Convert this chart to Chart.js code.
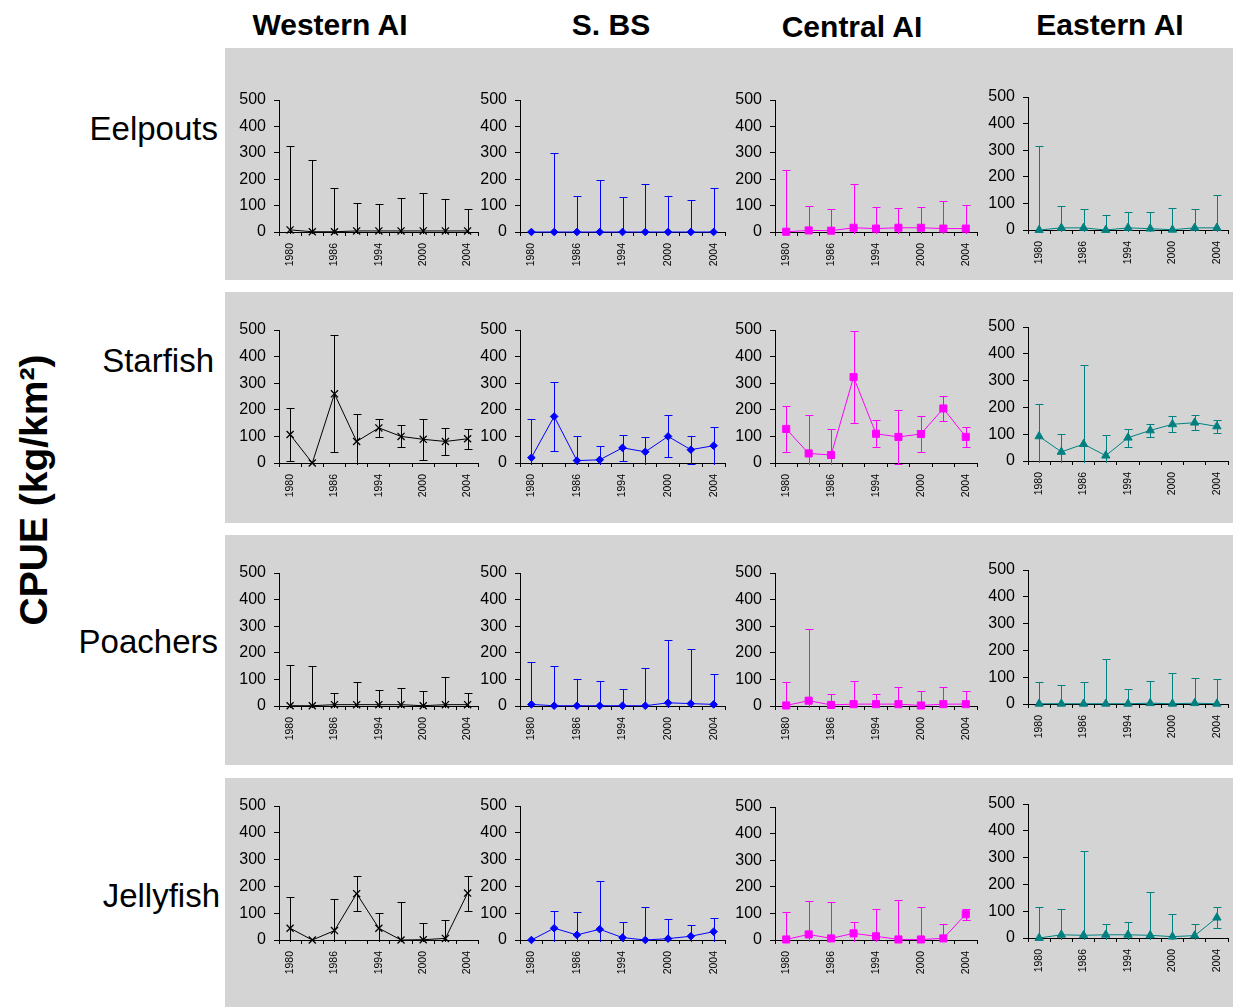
<!DOCTYPE html>
<html>
<head>
<meta charset="utf-8">
<script src="https://cdn.jsdelivr.net/npm/chart.js@4.4.1/dist/chart.umd.min.js"></script>
<style>
  html, body { margin: 0; padding: 0; background: #ffffff; }
  body { width: 1235px; height: 1007px; position: relative; overflow: hidden;
         font-family: "Liberation Sans", Arial, sans-serif; color: #000; }
  .band { position: absolute; left: 225px; width: 1008px; background: #d4d4d4; }
  .head { position: absolute; font-weight: bold; font-size: 30px; line-height: 30px;
          white-space: nowrap; transform: translateX(-50%); }
  .group { position: absolute; left: 0; font-size: 33px; line-height: 33px;
           text-align: right; white-space: nowrap; }
  .ylab { position: absolute; font-weight: bold; font-size: 39px; line-height: 39px;
          white-space: nowrap; transform: translate(-50%, -50%) rotate(-90deg); }
  canvas { position: absolute; }
</style>
</head>
<body>
<script>
// ---- categories and labels ----
const years = ['1980', '1983', '1986', '1991', '1994', '1997', '2000', '2002', '2004'];
const shownYears = ['1980', '1986', '1994', '2000', '2004'];
const regions = ['Western AI', 'S. BS', 'Central AI', 'Eastern AI'];
const groups = ['Eelpouts', 'Starfish', 'Poachers', 'Jellyfish'];
const yAxisTitle = 'CPUE (kg/km\u00B2)';

// ---- CPUE means and error half-widths (kg/km2) ----
const eelpoutsWestern    = [8, 1, 1, 4, 4, 4, 4, 4, 4];
const eelpoutsWesternErr = [317, 273, 166, 106, 103, 125, 144, 122, 84];
const eelpoutsSBS        = [0, 0, 0, 0, 0, 0, 0, 0, 0];
const eelpoutsSBSErr     = [0, 300, 138, 198, 133, 180, 138, 121, 165];
const eelpoutsCentral    = [1, 6, 5, 16, 13, 16, 16, 13, 13];
const eelpoutsCentralErr = [233, 93, 82, 167, 82, 75, 79, 104, 91];
const eelpoutsEastern    = [0, 8, 8, 0, 8, 5, 1, 8, 8];
const eelpoutsEasternErr = [317, 82, 72, 56, 60, 63, 83, 72, 122];

const starfishWestern    = [107, 0, 260, 81, 132, 100, 89, 81, 91];
const starfishWesternErr = [98, 0, 220, 105, 34, 41, 77, 51, 38];
const starfishSBS        = [20, 175, 9, 12, 57, 42, 100, 50, 65];
const starfishSBSErr     = [144, 129, 94, 52, 49, 57, 79, 53, 71];
const starfishCentral    = [128, 36, 30, 323, 110, 98, 109, 205, 98];
const starfishCentralErr = [86, 144, 99, 173, 51, 100, 66, 46, 36];
const starfishEastern    = [92, 34, 63, 20, 87, 114, 137, 143, 129];
const starfishEasternErr = [119, 68, 294, 78, 34, 25, 30, 27, 23];

const poachersWestern    = [1, 1, 5, 5, 5, 5, 1, 5, 5];
const poachersWesternErr = [155, 150, 45, 86, 56, 64, 57, 105, 45];
const poachersSBS        = [6, 1, 1, 1, 1, 1, 12, 9, 6];
const poachersSBSErr     = [160, 150, 99, 94, 64, 140, 238, 207, 113];
const poachersCentral    = [2, 20, 4, 7, 7, 7, 2, 7, 7];
const poachersCentralErr = [87, 270, 40, 88, 39, 63, 53, 63, 48];
const poachersEastern    = [1, 1, 1, 1, 1, 3, 1, 3, 1];
const poachersEasternErr = [80, 69, 80, 166, 56, 84, 113, 95, 91];

const jellyfishWestern    = [44, 0, 35, 173, 44, 0, 1, 6, 175];
const jellyfishWesternErr = [117, 0, 117, 64, 56, 141, 64, 70, 65];
const jellyfishSBS        = [0, 44, 19, 40, 9, 0, 5, 14, 31];
const jellyfishSBSErr     = [0, 64, 85, 181, 57, 122, 73, 41, 50];
const jellyfishCentral    = [2, 21, 6, 25, 14, 2, 2, 6, 97];
const jellyfishCentralErr = [105, 125, 136, 44, 102, 148, 121, 53, 20];
const jellyfishEastern    = [0, 12, 10, 12, 12, 10, 5, 9, 76];
const jellyfishEasternErr = [114, 95, 316, 39, 49, 162, 83, 42, 38];

// grid of [mean, error] per group (row) and region (column)
const panels = [
  [[eelpoutsWestern, eelpoutsWesternErr], [eelpoutsSBS, eelpoutsSBSErr],
   [eelpoutsCentral, eelpoutsCentralErr], [eelpoutsEastern, eelpoutsEasternErr]],
  [[starfishWestern, starfishWesternErr], [starfishSBS, starfishSBSErr],
   [starfishCentral, starfishCentralErr], [starfishEastern, starfishEasternErr]],
  [[poachersWestern, poachersWesternErr], [poachersSBS, poachersSBSErr],
   [poachersCentral, poachersCentralErr], [poachersEastern, poachersEasternErr]],
  [[jellyfishWestern, jellyfishWesternErr], [jellyfishSBS, jellyfishSBSErr],
   [jellyfishCentral, jellyfishCentralErr], [jellyfishEastern, jellyfishEasternErr]]
];

// ---- styling per region ----
const regionColors  = ['#000000', '#0000ff', '#ff00ff', '#008080'];
const regionMarkers = ['crossRot', 'rectRot', 'rect', 'triangle'];
const regionRadius  = [5, 3.8, 5, 4.8];

// ---- page layout ----
const bandTops = [48, 292, 535, 778];
const bandHeights = [232, 231, 230, 229];
const headCenters = [330, 611, 852, 1110];
const headBaselines = [35, 35, 37, 35];
const groupRight = [218, 214, 218, 220];
const groupBaselines = [140, 372, 653, 907];
const axisLeft = [279, 520, 775, 1028];
const axisRight = [479, 725, 977, 1228];
const plotTop = [[100, 100, 100, 97], [330, 330, 330, 327], [573, 573, 573, 570], [806, 806, 807, 804]];
const plotBottom = [[232, 232, 232, 230], [463, 463, 463, 461], [706, 706, 706, 704], [940, 940, 940, 938]];

const FONT = "'Liberation Sans', Arial, sans-serif";
Chart.defaults.font.family = FONT;
Chart.defaults.color = '#000';

function addDiv(cls, text, style) {
  const d = document.createElement('div');
  d.className = cls;
  d.textContent = text;
  Object.assign(d.style, style);
  document.body.appendChild(d);
  return d;
}

bandTops.forEach((t, r) => addDiv('band', '', { top: t + 'px', height: bandHeights[r] + 'px' }));
regions.forEach((name, c) => addDiv('head', name, {
  left: headCenters[c] + 'px', top: (headBaselines[c] - 25.4) + 'px' }));
groups.forEach((name, r) => addDiv('group', name, {
  width: groupRight[r] + 'px', top: (groupBaselines[r] - 27.9) + 'px' }));
addDiv('ylab', yAxisTitle, { left: '33px', top: '490px' });

// vertical error bars with caps, drawn through the y scale
const errorBarPlugin = {
  id: 'errorBars',
  beforeDatasetsDraw(chart) {
    const { ctx, chartArea, scales } = chart;
    const y = scales.y;
    ctx.save();
    ctx.beginPath();
    ctx.rect(chartArea.left - 20, chartArea.top - 20,
             chartArea.right - chartArea.left + 40, chartArea.bottom - chartArea.top + 22);
    ctx.clip();
    chart.data.datasets.forEach((ds, di) => {
      const meta = chart.getDatasetMeta(di);
      ctx.strokeStyle = ds.borderColor;
      ctx.lineWidth = 1;
      meta.data.forEach((pt, i) => {
        const e = ds.errors[i];
        if (!e) return;
        const x = Math.round(pt.x) + 0.5;
        const hi = Math.round(y.getPixelForValue(ds.data[i] + e)) + 0.5;
        const lo = Math.round(y.getPixelForValue(ds.data[i] - e)) + 0.5;
        ctx.beginPath();
        ctx.moveTo(x, hi); ctx.lineTo(x, lo);
        ctx.moveTo(x - 4, hi); ctx.lineTo(x + 4, hi);
        ctx.moveTo(x - 4, lo); ctx.lineTo(x + 4, lo);
        ctx.stroke();
      });
    });
    ctx.restore();
  }
};

const PAD_TOP = 12, PAD_RIGHT = 6, Y_W = 50, X_H = 50;

// fixed scale boxes so the plot area sits exactly where the layout puts it
function fixBox(s, size) {
  if (s.isHorizontal()) s.height = size; else s.width = size;
  s.paddingTop = 0; s.paddingBottom = 0; s.paddingLeft = 0; s.paddingRight = 0;
}

panels.forEach((row, r) => {
  row.forEach(([mean, err], c) => {
    const cv = document.createElement('canvas');
    const w = axisRight[c] - axisLeft[c] + Y_W + PAD_RIGHT;
    const h = plotBottom[r][c] - plotTop[r][c] + PAD_TOP + X_H;
    cv.width = w; cv.height = h;
    cv.style.left = (axisLeft[c] - Y_W) + 'px';
    cv.style.top = (plotTop[r][c] - PAD_TOP) + 'px';
    cv.style.width = w + 'px'; cv.style.height = h + 'px';
    document.body.appendChild(cv);

    const color = regionColors[c];
    new Chart(cv, {
      type: 'line',
      data: {
        labels: years,
        datasets: [{
          data: mean,
          errors: err,
          borderColor: color,
          backgroundColor: color,
          pointBackgroundColor: color,
          pointBorderColor: color,
          borderWidth: 1,
          pointBorderWidth: c === 0 ? 1.3 : 1,
          pointStyle: regionMarkers[c],
          pointRadius: regionRadius[c],
          tension: 0,
          fill: false,
          clip: false
        }]
      },
      options: {
        responsive: false,
        animation: false,
        devicePixelRatio: 1,
        layout: { padding: { top: PAD_TOP, right: PAD_RIGHT, left: 0, bottom: 0 } },
        plugins: { legend: { display: false }, tooltip: { enabled: false } },
        scales: {
          x: {
            type: 'category',
            offset: true,
            grid: { offset: true, drawOnChartArea: false, drawTicks: true, tickLength: 4,
                    color: '#000', lineWidth: 1 },
            border: { display: true, color: '#000', width: 1 },
            ticks: {
              autoSkip: false, maxRotation: 90, minRotation: 90, padding: 7,
              color: '#000', font: { family: FONT, size: 10.5 },
              callback: function (v) {
                const l = this.getLabelForValue(v);
                return shownYears.includes(l) ? l : '';
              }
            },
            afterFit(s) { fixBox(s, X_H); }
          },
          y: {
            min: 0, max: 500,
            ticks: { stepSize: 100, padding: 8, color: '#000', font: { family: FONT, size: 16 } },
            grid: { drawOnChartArea: false, drawTicks: true, tickLength: 5, color: '#000', lineWidth: 1 },
            border: { display: true, color: '#000', width: 1 },
            afterFit(s) { fixBox(s, Y_W); }
          }
        }
      },
      plugins: [errorBarPlugin]
    });
  });
});
</script>
</body>
</html>
